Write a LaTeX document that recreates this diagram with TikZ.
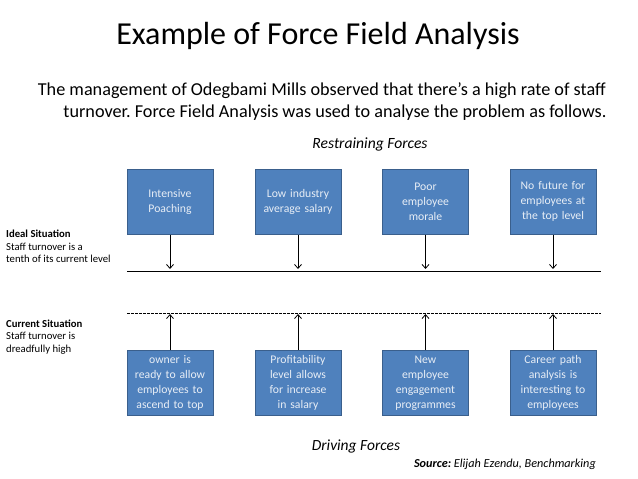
\documentclass[tikz,border=0pt]{standalone}
\usepackage{fontspec}
\setmainfont{Carlito}
\usetikzlibrary{arrows.meta}
\definecolor{boxfill}{HTML}{4F81BD}
\definecolor{boxedge}{HTML}{3A5F8C}
\definecolor{boxtext}{HTML}{E8EEF6}
\frenchspacing
\begin{document}
\begin{tikzpicture}[x=1pt,y=-1pt,
  force/.style={draw=boxedge,fill=boxfill,line width=1pt,minimum width=86pt,minimum height=65pt,
    inner sep=1pt,align=center,text=boxtext,font=\fontsize{11.7}{15}\selectfont,text width=84pt},
  lbl/.style={inner sep=0pt,anchor=base west,align=left,font=\fontsize{10.7}{13}\selectfont},
  push/.style={-{Straight Barb[length=4pt,width=7pt,line width=0.8pt]},line width=0.9pt}]
\useasboundingbox (0,0) rectangle (638,479);
% title
\node[inner sep=0pt,anchor=base] (title) at (318,45) {\fontsize{32}{38}\selectfont Example of Force Field Analysis};
\node[inner sep=0pt,anchor=base east] (sub1) at (606,95) {\fontsize{18.2}{22}\selectfont The management of Odegbami Mills observed that there’s a high rate of staff};
\node[inner sep=0pt,anchor=base] (sub2) at (335,117) {\fontsize{18.2}{22}\selectfont turnover. Force Field Analysis was used to analyse the problem as follows.};
\node[inner sep=0pt,anchor=base] (restr) at (370,148) {\fontsize{15.6}{18}\selectfont\itshape Restraining Forces};
% lines
\coordinate (ls) at (127,271);
\coordinate (le) at (601,271);
\coordinate (ds) at (127,313);
\coordinate (de) at (601,313);
\draw[line width=1pt] (ls) -- (le);
\draw[line width=0.7pt,dash pattern=on 2.5pt off 1.5pt] (ds) -- (de);
% restraining boxes
\node[force] (r1) at (170,201.5) {Intensive\\Poaching};
\node[force] (r2) at (298,201.5) {Low industry\\average salary};
\node[force] (r3) at (425.5,201.5) {Poor\\employee\\morale};
\node[force] (r4) at (553,201.5) {No future for\\employees at\\the top level};
% driving boxes
\node[force] (d1) at (170,383) {owner is\\ready to allow\\employees to\\ascend to top};
\node[force] (d2) at (298,383) {Profitability\\level allows\\for increase\\in salary};
\node[force] (d3) at (425.5,383) {New\\employee\\engagement\\programmes};
\node[force] (d4) at (553,383) {Career path\\analysis is\\interesting to\\employees};
% arrows
\foreach \i in {1,2,3,4}{
  \coordinate (rt\i) at (r\i.south |- 0,269);
  \coordinate (dt\i) at (d\i.north |- 0,314);
  \draw[push] (r\i.south) -- (rt\i);
  \draw[push] (d\i.north) -- (dt\i);
}
% left labels
\node[lbl] (ideal) at (6,237) {\bfseries Ideal Situation};
\node[lbl] (ideal2) at (6,250) {Staff turnover is a};
\node[lbl] (ideal3) at (6,262.5) {tenth of its current level};
\node[lbl] (cur) at (6,327) {\bfseries Current Situation};
\node[lbl] (cur2) at (6,339.5) {Staff turnover is};
\node[lbl] (cur3) at (6,352) {dreadfully high};
% bottom
\node[inner sep=0pt,anchor=base] (drive) at (356,450) {\fontsize{15.5}{18}\selectfont\itshape Driving Forces};
\node[inner sep=0pt,anchor=base east] (src) at (596,467) {\fontsize{12.2}{14}\selectfont\itshape\textbf{Source:} Elijah Ezendu, Benchmarking};
\end{tikzpicture}
\end{document}
